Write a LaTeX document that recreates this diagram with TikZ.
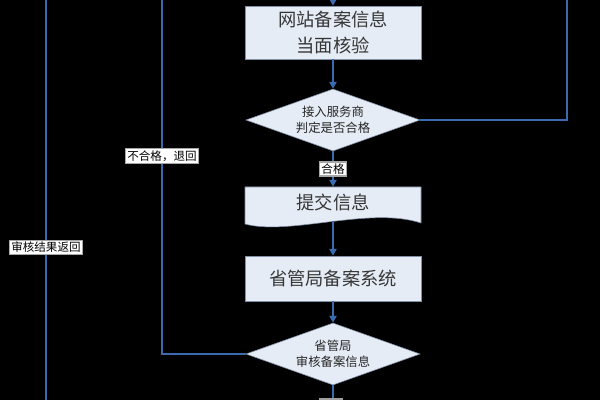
\documentclass[tikz,border=0pt]{standalone}
\usepackage{fontspec}
\newfontfamily\cjk{Noto Sans CJK SC}
\usetikzlibrary{arrows.meta,positioning,shapes.geometric}
\definecolor{flowblue}{RGB}{58,106,176}
\definecolor{boxfill}{RGB}{230,236,246}
\definecolor{boxline}{RGB}{128,144,166}
\definecolor{txtgray}{RGB}{55,55,55}

\begin{document}
\begin{tikzpicture}[x=0.025cm, y=-0.025cm,
  flow/.style={draw=flowblue, line width=1.1pt},
  arr/.style={flow, -{Triangle[length=0.17cm, width=0.18cm]}},
  stepbox/.style={draw=boxline, fill=boxfill, text=txtgray, font=\cjk\fontsize{13}{19}\selectfont,
    minimum width=4.4cm, align=center, inner sep=0pt},
  decide/.style={diamond, draw=boxline, fill=boxfill, text=black!85, font=\cjk\fontsize{8.8}{11.3}\selectfont,
    align=center, shape aspect=2.8, inner sep=0pt, minimum width=4.35cm, minimum height=1.55cm},
  lbl/.style={draw=gray!70, fill=white, text=black, font=\cjk\fontsize{8.2}{10}\selectfont, inner sep=1.3pt}]
% Background
\useasboundingbox (0,0) rectangle (600,400);
\fill[black] (0,0) rectangle (600,400);
\clip (0,0) rectangle (600,400);
% Document shape for the submit step
\coordinate (dnw) at (245,187);
\coordinate (dne) at (421,187);
\coordinate (dse) at (421,223);
\coordinate (dsw) at (245,224);
\draw[boxline, fill=boxfill] (dnw) -- (dne) -- (dse)
  .. controls (370,206) and (290,236) .. (dsw) -- cycle;
\coordinate (docb) at (333,221.5);
% Main column
\node[stepbox, minimum height=1.325cm] (check) at (333,32.5) {网站备案信息\\当面核验};
\node[decide] (isp) at (333,120) {接入服务商\\判定是否合格};
\node[text=txtgray, font=\cjk\fontsize{13}{19}\selectfont, minimum width=4.4cm, minimum height=0.75cm,
  inner sep=0pt] (submit) at (333,202) {提交信息};
\node[stepbox, minimum height=1.125cm] (prov) at (333,278.5) {省管局备案系统};
\node[decide] (audit) at (333,354) {省管局\\审核备案信息};
% Free ends at the border
\coordinate (topin) at (333,0);
\coordinate (rtop) at (567,0);
\coordinate (mtop) at (162,0);
\coordinate (ltop) at (46,0);
\coordinate (lbot) at (46,400);
\coordinate (cbot) at (333,400);
% Connectors
\draw[arr] (topin) -- (check.north);
\draw[arr] (check.south) -- (isp.north);
\draw[arr] (isp.south) -- node[lbl, midway] (ok) {合格} (submit.north);
\draw[arr] (docb) -- (prov.north);
\draw[arr] (prov.south) -- (audit.north);
\draw[flow] (isp.east) -| (rtop);
\draw[flow] (audit.west) -| (mtop);
\node[lbl] (fail) at (162,156) {不合格，退回};
\draw[flow] (lbot) -- (ltop);
\node[lbl] (back) at (46,247) {审核结果返回};
\draw[flow] (audit.south) -- (cbot);
% Next label, cut off by the border
\fill[gray!75] (319,398) rectangle (343,404);
\end{tikzpicture}
\end{document}
